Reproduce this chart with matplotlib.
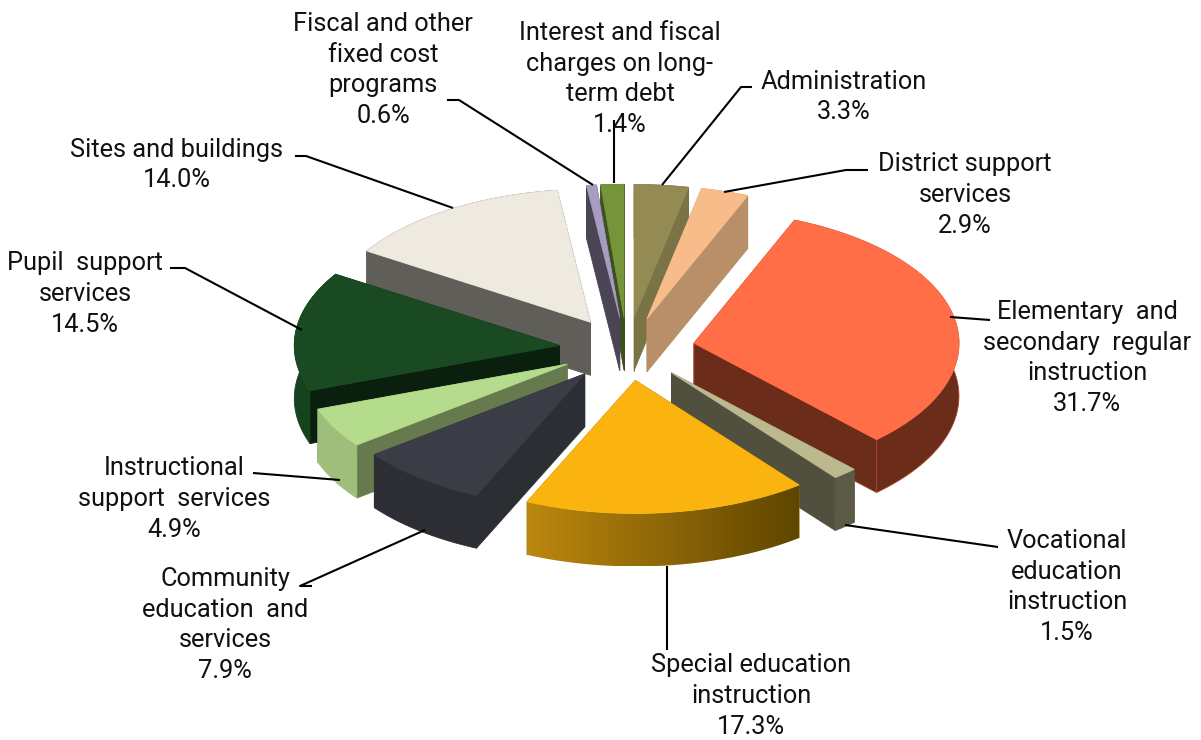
import numpy as np
import matplotlib
matplotlib.use("Agg")
import matplotlib.pyplot as plt
from matplotlib.colors import LinearSegmentedColormap
from matplotlib.patches import Polygon

plt.rcParams['font.family'] = ['Roboto', 'DejaVu Sans']

labels = ["Administration\n3.3%",
          "District support\nservices\n2.9%",
          "Elementary  and\nsecondary  regular\ninstruction\n31.7%",
          "Vocational\neducation\ninstruction\n1.5%",
          "Special education\ninstruction\n17.3%",
          "Community\neducation  and\nservices\n7.9%",
          "Instructional\nsupport  services\n4.9%",
          "Pupil  support\nservices\n14.5%",
          "Sites and buildings\n14.0%",
          "Fiscal and other\nfixed cost\nprograms\n0.6%",
          "Interest and fiscal\ncharges on long-\nterm debt\n1.4%"]
values = [3.3, 2.9, 31.7, 1.5, 17.3, 7.9, 4.9, 14.5, 14.0, 0.6, 1.4]

top_colors = ["#948A54", "#F8BC8A", "#FF6E46", "#BDB98F", "#FBB40F", "#3A3C46",
              "#B5DB8D", "#194A22", "#EFEAE0", "#A79CC2", "#76953A"]
wall_colors = ["#7A7345", "#B88F68", "#6B2C1A", "#514F3D", "#8A6508", "#2B2E33",
               "#667A4D", "#0A1F0D", "#605E58", "#4A4455", "#3F5020"]
rim_left = ["#7A7345", "#B88F68", "#6B2C1A", "#5C5A46", "#BC880E", "#2C2E33",
            "#A0BE7B", "#16421E", "#605E58", "#4A4455", "#3F5020"]
rim_right = ["#7A7345", "#B88F68", "#6B2C1A", "#5C5A46", "#5F4500", "#2C2E33",
             "#A0BE7B", "#16421E", "#605E58", "#4A4455", "#3F5020"]

# label centres (pixels) and leader lines
label_xy = [(844, 97), (965, 195), (1087, 358), (1067, 587), (751, 696), (225, 625),
            (174, 499), (85, 294), (177, 165), (383, 70), (620, 79)]
leaders = [[(752, 87), (741, 87), (662, 185)],
           [(868, 170), (846, 170), (724, 192)],
           [(990, 320), (950, 317)],
           [(998, 547), (845, 525)],
           [(667, 650), (667, 566)],
           [(312, 586), (300, 586), (425, 530)],
           [(253, 473), (340, 480)],
           [(170, 268), (185, 268), (302, 330)],
           [(295, 156), (306, 156), (453, 208)],
           [(447, 100), (459, 100), (593, 185)],
           [(614, 120), (614, 183)]]

# pie geometry in pixels
cx, cy = 627, 349
rx, ry = 265, 133
explode_x, explode_y = 0.257, 0.238
depth = 53


def project(u, v, drop=0.0):
    return cx + rx * u, cy - ry * v + drop


def face(ax, pts, color, z, edge=None):
    ax.fill(*zip(*pts), facecolor=color, edgecolor=edge or color, lw=0.6, zorder=z)


fig = plt.figure(figsize=(12.01, 7.4), dpi=100)
ax = fig.add_axes([0, 0, 1, 1])

ends = np.cumsum(values) / np.sum(values) * 2 * np.pi
starts = ends - np.array(values) / np.sum(values) * 2 * np.pi
mids = (starts + ends) / 2

# paint back to front
order = np.argsort(-np.cos(mids))
for rank, i in enumerate(order):
    z = 2 + rank
    ou, ov = explode_x * np.sin(mids[i]), explode_y * np.cos(mids[i])
    th = np.linspace(starts[i], ends[i], max(8, int(values[i] * 4)))
    arc_u, arc_v = ou + np.sin(th), ov + np.cos(th)
    apex = project(ou, ov)
    apex_low = project(ou, ov, depth)
    arc = [project(u, v) for u, v in zip(arc_u, arc_v)]
    arc_low = [project(u, v, depth) for u, v in zip(arc_u, arc_v)]
    edge = "#A8452C" if i == 2 else None

    # the two cut faces, the one further back first
    cuts = [(arc[0], arc_low[0]), (arc[-1], arc_low[-1])]
    cuts.sort(key=lambda c: c[0][1])
    for a, b in cuts:
        face(ax, [apex, a, b, apex_low], wall_colors[i], z, edge)

    # outer rim, a gradient clipped to the rim shape when the ends differ
    rim = arc + arc_low[::-1]
    if rim_left[i] == rim_right[i]:
        face(ax, rim, rim_left[i], z, edge)
    else:
        xs = [p[0] for p in rim]
        ys = [p[1] for p in rim]
        cmap = LinearSegmentedColormap.from_list("rim", [rim_left[i], rim_right[i]])
        im = ax.imshow(np.linspace(0, 1, 256)[None, :], cmap=cmap, aspect="auto", zorder=z,
                       extent=(min(xs), max(xs), max(ys), min(ys)))
        im.set_clip_path(Polygon(rim, closed=True, transform=ax.transData))

    face(ax, [apex] + arc, top_colors[i], z)

ax.set_xlim(0, 1201)
ax.set_ylim(740, 0)
ax.axis("off")

for pts in leaders:
    ax.plot(*zip(*pts), color="black", lw=1.5, zorder=30, solid_capstyle="butt")

for text, (x, y) in zip(labels, label_xy):
    ax.text(x, y, text, ha="center", va="center", fontsize=18.3, color="#111111",
            linespacing=1.35, zorder=31)

fig.savefig("out.png", dpi=100)
